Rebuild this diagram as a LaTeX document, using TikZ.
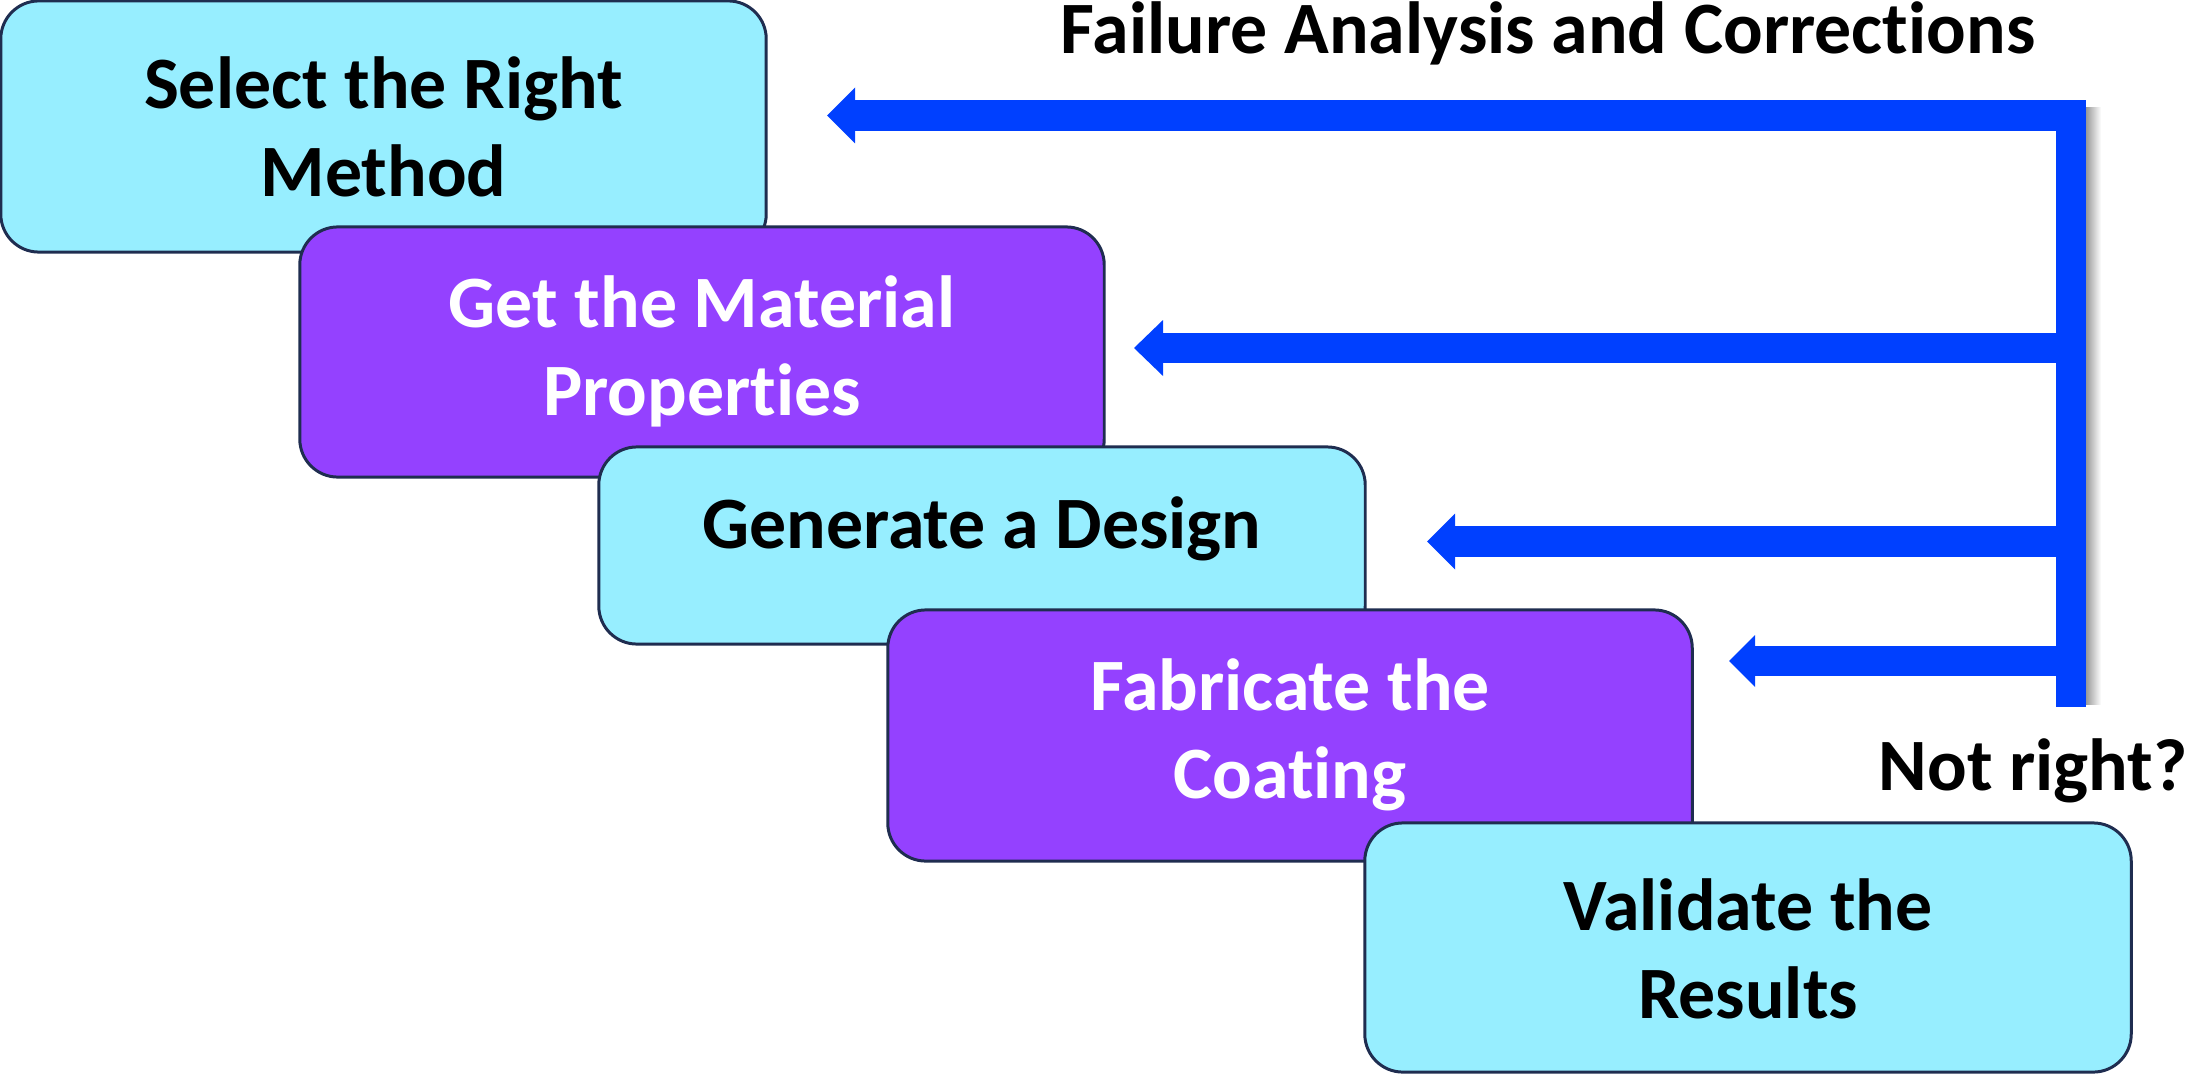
\documentclass[tikz,border=0pt]{standalone}
\usepackage{fontspec}
\setmainfont{Carlito}[Ligatures=NoCommon]
\definecolor{cyanbox}{HTML}{97EEFF}
\definecolor{purplebox}{HTML}{9441FF}
\definecolor{edge}{HTML}{1F2D50}
\definecolor{flowblue}{HTML}{0040FF}
\begin{document}
\begin{tikzpicture}[x=0.01cm,y=-0.01cm,
  box/.style={draw=edge, line width=0.85pt, rounded corners=0.38cm, inner sep=0pt},
  lightbox/.style={box, fill=cyanbox},
  darkbox/.style={box, fill=purplebox},
  label/.style={font=\bfseries\fontsize{21}{25}\selectfont, align=center, anchor=base, inner sep=0pt},
  flow/.style={draw=flowblue, line width=0.30cm, line join=miter, line cap=butt},
  head/.style={fill=flowblue}
]
\useasboundingbox (0,0) rectangle (2195,1073);

% staggered process steps
\node[lightbox, minimum width=7.65cm, minimum height=2.51cm] (b1) at (383.5,126.5) {};
\node[darkbox,  minimum width=8.04cm, minimum height=2.50cm] (b2) at (702,352) {};
\node[lightbox, minimum width=7.66cm, minimum height=1.97cm] (b3) at (982,545.5) {};
\node[darkbox,  minimum width=8.04cm, minimum height=2.51cm] (b4) at (1290,735.5) {};
\node[lightbox, minimum width=7.66cm, minimum height=2.49cm] (b5) at (1748,947.5) {};

% step captions (base = baseline of the last line)
\node[label] (t1) at (383.5,196) {Select the Right\\Method};
\node[label, text=white] (t2) at (702,415) {Get the Material\\Properties};
\node[label] (t3) at (982,548) {Generate a Design};
\node[label, text=white] (t4) at (1290,798) {Fabricate the\\Coating};
\node[label] (t5) at (1748,1018) {Validate the\\Results};

% feedback captions
\node[label] (fa) at (1548,54) {Failure Analysis and Corrections};
\node[label] (nr) at (2033,790) {Not right?};

% feedback bus
\coordinate (corner) at (2070.5,115.5);
\coordinate (busend) at (2070.5,707);
\coordinate (j2) at (2070.5,348);
\coordinate (j3) at (2070.5,541.5);
\coordinate (j4) at (2070.5,661);
\coordinate (tip1) at (827,115.5);
\coordinate (tip2) at (1134,348);
\coordinate (tip3) at (1427,541.5);
\coordinate (tip4) at (1729,661);

\shade[left color=black!40, right color=white] (2086,108) rectangle (2101,704);

\draw[flow] ([xshift=0.26cm]tip1) -- (corner) -- (busend);
\draw[flow] (j2) -- ([xshift=0.27cm]tip2);
\draw[flow] (j3) -- ([xshift=0.26cm]tip3);
\draw[flow] (j4) -- ([xshift=0.24cm]tip4);

\fill[head] (tip1) -- ++(28,-28) -- ++(0,56) -- cycle;
\fill[head] (tip2) -- ++(29,-28) -- ++(0,56) -- cycle;
\fill[head] (tip3) -- ++(28,-28) -- ++(0,56) -- cycle;
\fill[head] (tip4) -- ++(26,-26) -- ++(0,52) -- cycle;
\end{tikzpicture}
\end{document}
